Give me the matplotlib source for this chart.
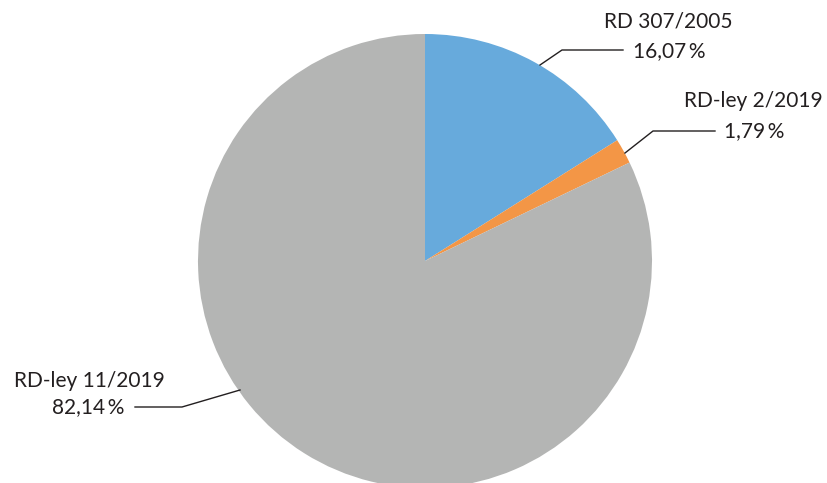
import numpy as np
import matplotlib
matplotlib.use('Agg')
import matplotlib.pyplot as plt

plt.rcParams['font.family'] = ['Lato', 'DejaVu Sans']

labels = ['RD 307/2005', 'RD-ley 2/2019', 'RD-ley 11/2019']
values = [16.07, 1.79, 82.14]
colors = ['#67aadc', '#f39646', '#b4b5b4']

fig = plt.figure(figsize=(8.28, 4.83), dpi=100)
ax = fig.add_axes([0, 0, 1, 1])
ax.set_xlim(0, 828)
ax.set_ylim(483, 0)
ax.set_aspect('equal')
ax.axis('off')

# pie drawn in pixel-like coords (y down), so go counterclockwise to get a clockwise look
ax.pie(values, colors=colors, startangle=-90, counterclock=True,
       center=(425, 261), radius=227, frame=True,
       wedgeprops={'linewidth': 0})
ax.set_xlim(0, 828)
ax.set_ylim(483, 0)
ax.axis('off')

# leader lines (elbow points) and label positions
leaders = [
    [(540, 65), (562, 50), (623, 50)],
    [(625, 153), (653, 131), (715, 131)],
    [(240, 390), (182, 407), (135, 407)],
]
label_pos = [(668, 22, 669, 51), (753, 101, 754, 131), (89, 381, 88, 407)]

for i in range(len(values)):
    pts = np.array(leaders[i])
    ax.plot(pts[:, 0], pts[:, 1], color='#231f20', lw=1.0)
    x1, y1, x2, y2 = label_pos[i]
    pct = ('%.2f' % values[i]).replace('.', ',') + '\u2009%'
    ax.text(x1, y1, labels[i], ha='center', va='center', fontsize=15, color='#231f20')
    ax.text(x2, y2, pct, ha='center', va='center', fontsize=15, color='#231f20')

fig.savefig('out.png', dpi=100)
